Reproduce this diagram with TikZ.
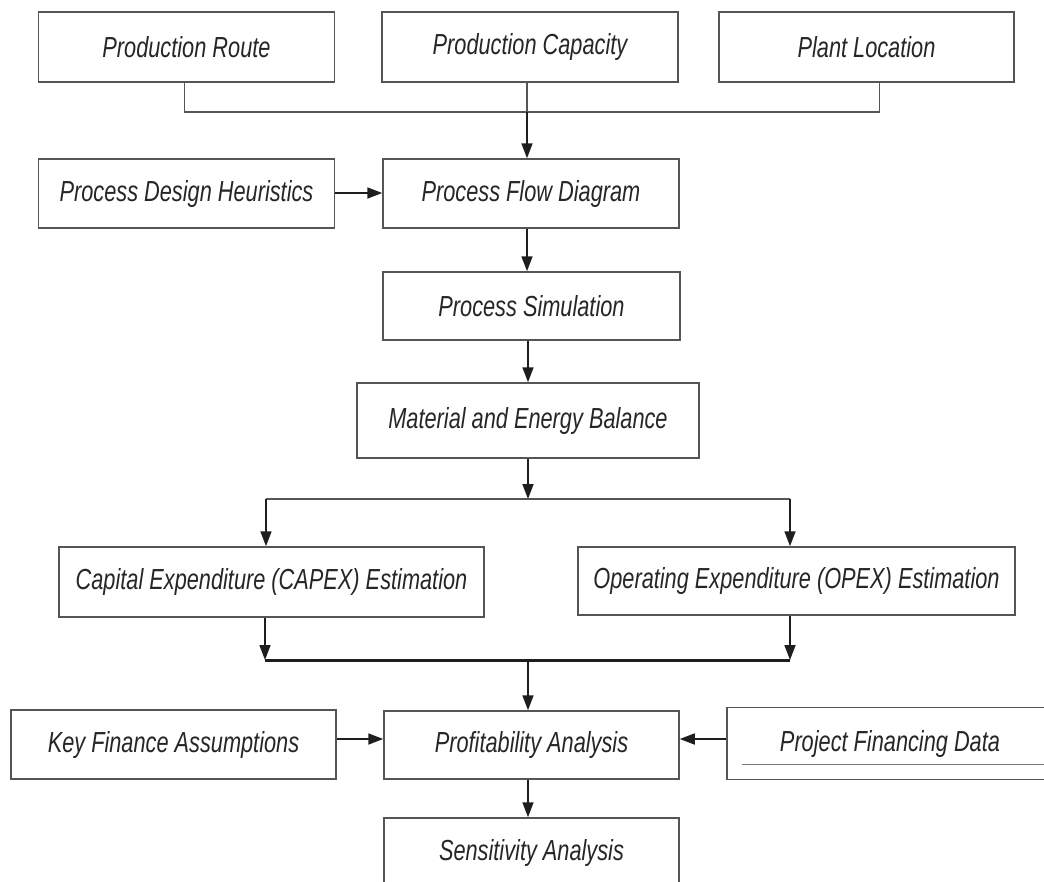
\documentclass[tikz,border=0pt]{standalone}
\usepackage{fontspec}
\setmainfont{Liberation Sans}[FakeStretch=0.75]
\usetikzlibrary{arrows.meta}
\definecolor{boxline}{HTML}{555555}
\definecolor{txt}{HTML}{262626}
\definecolor{arr}{HTML}{1E1E1E}
\tikzset{
  box/.style={draw=boxline, line width=1.5pt, fill=white, inner sep=0pt, text=txt,
    font=\fontsize{29}{31}\selectfont\itshape},
  conn/.style={draw=boxline, line width=1.4pt},
  arrw/.style={draw=arr, line width=1.7pt, -{Triangle[length=15pt,width=11pt]}},
  thick line/.style={draw=arr, line width=3pt},
}
\begin{document}
\begin{tikzpicture}[x=1pt,y=-1pt]
\useasboundingbox (0,0) rectangle (1044,881);
\clip (0,0) rectangle (1044,881);
% row 1
\node[box, minimum width=296pt, minimum height=70pt] (pr) at (186.5,47) {Production Route};
\node[box, minimum width=296pt, minimum height=70pt] (pc) at (530,47) {Production Capacity};
\node[box, minimum width=295pt, minimum height=70pt] (pl) at (866.5,47) {Plant Location};
% row 2
\node[box, minimum width=296pt, minimum height=69pt] (pdh) at (186.5,193.5) {Process Design Heuristics};
\node[box, minimum width=296pt, minimum height=69pt] (pfd) at (531,193.5) {Process Flow Diagram};
% row 3
\node[box, minimum width=297pt, minimum height=68pt] (ps) at (531.5,306) {Process Simulation};
% row 4
\node[box, minimum width=342pt, minimum height=75pt] (meb) at (528,420.5) {Material and Energy Balance};
% row 5
\node[box, minimum width=425pt, minimum height=70pt] (capex) at (271.5,582) {Capital Expenditure (CAPEX) Estimation};
\node[box, minimum width=437pt, minimum height=68pt] (opex) at (796.5,581) {Operating Expenditure (OPEX) Estimation};
% row 6
\node[box, minimum width=325pt, minimum height=69pt] (kfa) at (173.5,744.5) {Key Finance Assumptions};
\node[box, minimum width=295pt, minimum height=68pt] (pa) at (531.5,745) {Profitability Analysis};
\node[box, minimum width=326pt, minimum height=72pt] (pfdata) at (890,743.5) {Project Financing Data};
\draw[line width=0.8pt, draw=boxline!80] ([xshift=16pt,yshift=-20.5pt]pfdata.west) coordinate (ul) -- (ul -| pfdata.east);
% row 7
\node[box, minimum width=295pt, minimum height=70pt] (sa) at (531.5,853) {Sensitivity Analysis};

% coordinates for connectors
\coordinate (top) at (527,112);
\coordinate (split) at (528,499);
\coordinate (merge) at (528,660);

% top merge
\draw[conn] ([xshift=-2pt]pr.south) |- (top) -| ([xshift=13pt]pl.south);
\draw[conn] ([xshift=-3pt]pc.south) -- (top);
\draw[arrw] (top) -- (top |- pfd.north);
\draw[arrw] ([yshift=0.5pt]pdh.east) -- ([yshift=0.5pt]pfd.west);
\draw[arrw] ([xshift=-4pt]pfd.south) -- ([xshift=-4pt]pfd.south |- ps.north);
\draw[arrw] ([xshift=-3.5pt]ps.south) -- ([xshift=-3.5pt]ps.south |- meb.north);
\draw[arrw] (meb.south) -- (split);
\draw[conn] (266,499) coordinate (sl) -- (790,499) coordinate (sr);
\draw[arrw] (sl) -- (sl |- capex.north);
\draw[arrw] (sr) -- (sr |- opex.north);
\coordinate (ml) at (265,660);
\coordinate (mr) at (790,660);
\draw[arrw] (ml |- capex.south) -- (ml);
\draw[arrw] (mr |- opex.south) -- (mr);
\draw[thick line] (ml) -- (mr);
\draw[arrw] (merge) -- (merge |- pa.north);
\draw[arrw] ([yshift=5.5pt]kfa.east) -- ([yshift=6pt]pa.west);
\draw[arrw] ([yshift=4.5pt]pfdata.west) -- ([yshift=6pt]pa.east);
\draw[arrw] ([xshift=-3.5pt]pa.south) -- ([xshift=-3.5pt]pa.south |- sa.north);
\end{tikzpicture}
\end{document}
